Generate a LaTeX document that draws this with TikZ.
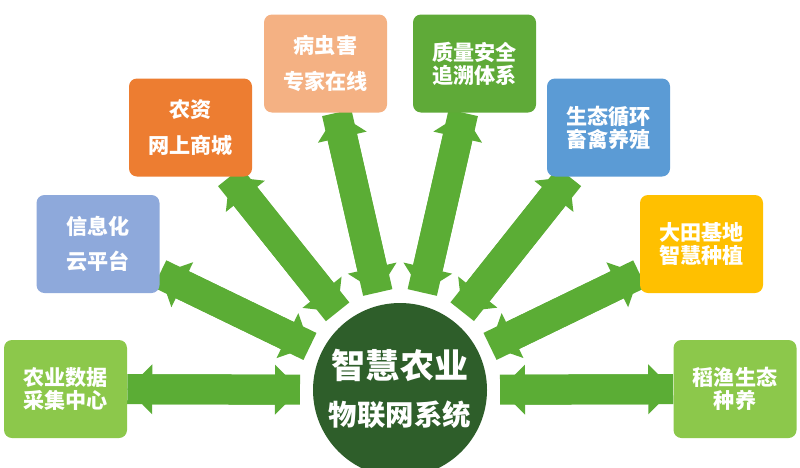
\documentclass[tikz,border=0pt]{standalone}
\usepackage{fontspec}
\newfontfamily\cjk{Noto Sans CJK SC}
\usetikzlibrary{arrows.meta,calc}
\newlength\pxu
\setlength\pxu{0.025cm}
\pgfdeclarelayer{background}
\pgfsetlayers{background,main}
\definecolor{arrgreen}{HTML}{5BAD35}
\definecolor{dkgreen}{HTML}{2E5E2A}
\definecolor{ltgreen}{HTML}{8CC84B}
\definecolor{periw}{HTML}{8EA9DB}
\definecolor{orng}{HTML}{ED7D31}
\definecolor{salmon}{HTML}{F4B183}
\definecolor{midgreen}{HTML}{5FAA38}
\definecolor{skyblue}{HTML}{5B9BD5}
\definecolor{gold}{HTML}{FFC000}
\begin{document}
\begin{tikzpicture}[x=0.025cm,y=-0.025cm,
  box/.style={rounded corners=8\pxu, minimum width=123\pxu, minimum height=98\pxu,
    inner sep=0pt, text=white, align=center,
    font=\cjk\bfseries\fontsize{15}{25}\selectfont},
  tight/.style={font=\cjk\bfseries\fontsize{15}{16.5}\selectfont},
  shaft/.style={draw=arrgreen, line width=0.75cm},
  tips/.style={draw=arrgreen, line width=0.75cm,
    >={Triangle[width=1.25cm,length=0.625cm,line width=0pt]}, <->},
  hub/.style={circle, minimum size=174\pxu, inner sep=0pt, fill=dkgreen}]
\useasboundingbox (0,0) rectangle (800,467);
\clip (0,0) rectangle (800,467);

\node[hub] (ctr) at (400,390) {};
\node[text=white, font=\cjk\bfseries\fontsize{24.2}{28}\selectfont] (t1) at (400,365) {智慧农业};
\node[text=white, font=\cjk\bfseries\fontsize{20.2}{24}\selectfont] (t2) at (400,415) {物联网系统};

\node[box, tight, fill=ltgreen] (data) at (65.5,389) {农业数据\\采集中心};
\node[box, fill=periw] (cloud) at (98,244) {信息化\\云平台};
\node[box, fill=orng] (shop) at (190.5,127.5) {农资\\网上商城};
\node[box, fill=salmon] (pest) at (325.5,63.5) {病虫害\\专家在线};
\node[box, tight, fill=midgreen] (trace) at (474.5,63.5) {质量安全\\追溯体系};
\node[box, tight, fill=skyblue] (eco) at (608.5,127.5) {生态循环\\畜禽养殖};
\node[box, tight, fill=gold] (field) at (701.5,244) {大田基地\\智慧种植};
\node[box, tight, fill=ltgreen] (fish) at (735,389) {稻渔生态\\种养};

\begin{pgfonlayer}{background}
\fill[white] (0,0) rectangle (800,467);
\foreach \b in {data,cloud,shop,pest,trace,eco,field,fish}{
  \draw[shaft] ($(ctr)!2.5cm!(\b)$) -- (\b);
  \draw[tips] ($(ctr)!2.5cm!(\b)$) -- (\b);
}
\end{pgfonlayer}
\end{tikzpicture}
\end{document}
